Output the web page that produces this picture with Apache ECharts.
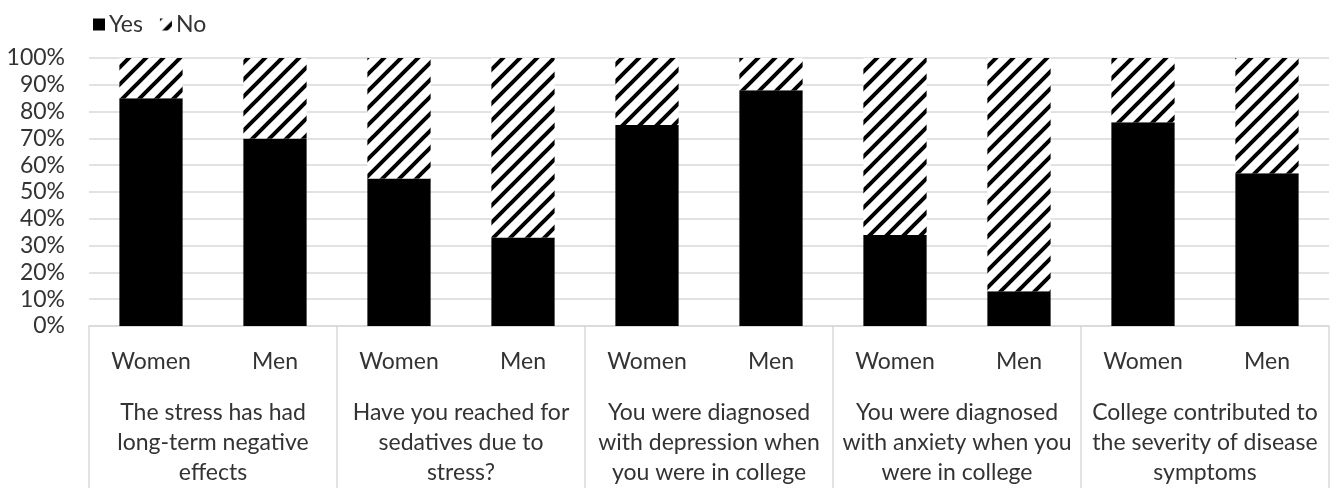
<!DOCTYPE html>
<html>
<head>
<meta charset="utf-8">
<script src="https://cdn.jsdelivr.net/npm/echarts@6/dist/echarts.min.js"></script>
<style>
  html, body { margin: 0; padding: 0; background: #fff; }
  #chart { width: 1337px; height: 488px; }
</style>
</head>
<body>
<div id="chart"></div>
<script>
// Respondent groups along the x axis (two per question)
const categories = ['Women', 'Men', 'Women', 'Men', 'Women', 'Men', 'Women', 'Men', 'Women', 'Men'];
// Questions, one per pair of bars
const questions = [
  'The stress has had\nlong-term negative\neffects',
  'Have you reached for\nsedatives due to\nstress?',
  'You were diagnosed\nwith depression when\nyou were in college',
  'You were diagnosed\nwith anxiety when you\nwere in college',
  'College contributed to\nthe severity of disease\nsymptoms'
];
// Share of answers, in percent
const yesValues = [85, 70, 55, 33, 75, 88, 34, 13, 76, 57];
const noValues  = [15, 30, 45, 67, 25, 12, 66, 87, 24, 43];

const FONT = 'Lato';
const TEXT = '#333333';
const GRID = '#d9d9d9';
const FS = 23;

// Diagonal hatch tile for the "No" segments
function hatchTile() {
  const s = 17;
  const c = document.createElement('canvas');
  c.width = s; c.height = s;
  const g = c.getContext('2d');
  g.fillStyle = '#fff';
  g.fillRect(0, 0, s, s);
  g.strokeStyle = '#000';
  g.lineWidth = 4;
  g.beginPath();
  g.moveTo(-2, s + 2); g.lineTo(s + 2, -2);
  g.moveTo(-2, 2); g.lineTo(2, -2);
  g.moveTo(s - 2, s + 2); g.lineTo(s + 2, s - 2);
  g.stroke();
  return c;
}

const chart = echarts.init(document.getElementById('chart'), null, { renderer: 'canvas' });
chart.setOption({
  animation: false,
  textStyle: { fontFamily: FONT },
  legend: {
    left: 88,
    top: 8,
    icon: 'rect',
    itemWidth: 12,
    itemHeight: 12,
    itemGap: 17,
    textStyle: { fontFamily: FONT, fontSize: FS, color: TEXT, padding: [0, 0, 0, -1] },
    data: ['Yes', 'No']
  },
  grid: { left: 89, right: 8, top: 58, bottom: 159, containLabel: false },
  xAxis: [
    {
      type: 'category',
      data: categories,
      position: 'bottom',
      axisLine: { show: true, lineStyle: { color: GRID, width: 1.5 } },
      axisTick: { show: false },
      axisLabel: { interval: 0, margin: 21, fontSize: FS, lineHeight: 30, color: TEXT, fontFamily: FONT }
    },
    {
      type: 'category',
      data: questions,
      position: 'bottom',
      offset: 0,
      axisLine: { show: false },
      axisTick: { show: true, length: 170, lineStyle: { color: GRID, width: 1.5 } },
      axisLabel: { interval: 0, margin: 72, fontSize: FS, lineHeight: 30, color: TEXT, fontFamily: FONT }
    }
  ],
  yAxis: {
    type: 'value',
    min: 0,
    max: 100,
    interval: 10,
    axisLine: { show: false },
    axisTick: { show: false },
    splitLine: { lineStyle: { color: GRID, width: 1.5 } },
    axisLabel: { formatter: '{value}%', margin: 24, fontSize: FS, color: TEXT, fontFamily: FONT }
  },
  series: [
    {
      name: 'Yes',
      type: 'bar',
      stack: 'answers',
      xAxisIndex: 0,
      barWidth: '51%',
      itemStyle: { color: '#000' },
      data: yesValues
    },
    {
      name: 'No',
      type: 'bar',
      stack: 'answers',
      xAxisIndex: 0,
      barWidth: '51%',
      itemStyle: { color: { image: hatchTile(), repeat: 'repeat' } },
      data: noValues
    }
  ]
});
</script>
</body>
</html>
